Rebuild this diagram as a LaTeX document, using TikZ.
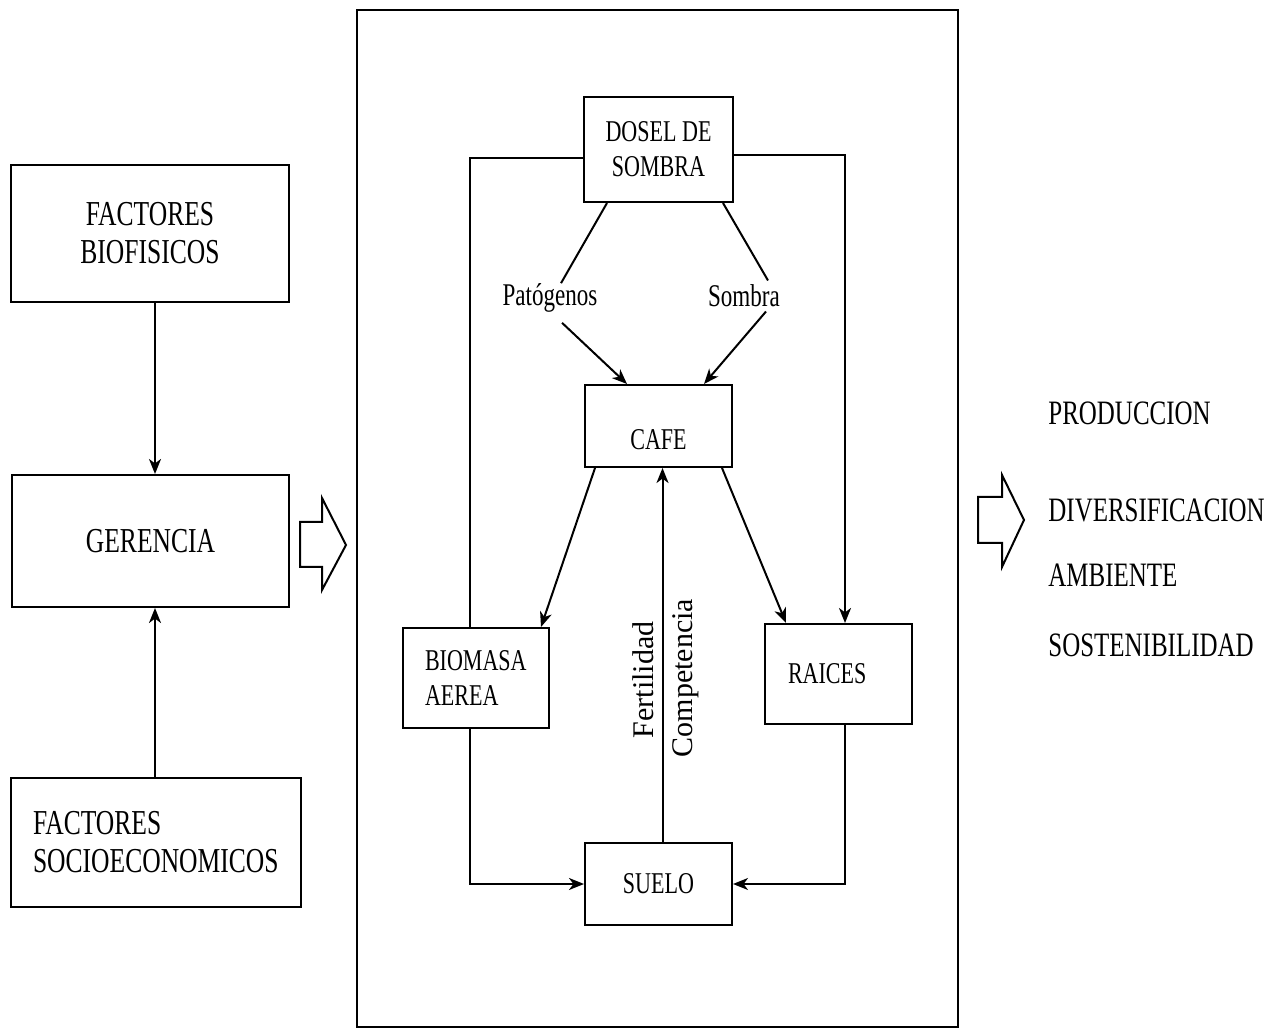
\documentclass[tikz,border=0pt]{standalone}
\usepackage{fontspec}
\setmainfont{Liberation Serif}
\newfontfamily\cond[FakeStretch=0.73]{Liberation Serif}
\usetikzlibrary{arrows.meta,calc}
\begin{document}
\begin{tikzpicture}[x=0.5pt,y=-0.5pt,
  box/.style={draw,line width=1pt,rectangle,inner sep=0pt},
  big/.style={font=\cond\fontsize{17.5}{19}\selectfont,align=center},
  small/.style={font=\cond\fontsize{15.1}{17.5}\selectfont,align=center},
  lbl/.style={font=\cond\fontsize{15.8}{17}\selectfont,inner sep=1pt},
  vlbl/.style={font=\fontsize{15}{18}\selectfont,rotate=90,inner sep=1pt},
  outtxt/.style={font=\cond\fontsize{17.1}{18}\selectfont,anchor=west,inner sep=0pt},
  arr/.style={-{Stealth[length=7.5pt,width=6pt,inset=2.2pt]},line width=1pt},
  con/.style={line width=1pt},
  hollow/.style={draw,line width=1pt,line join=miter}]
\useasboundingbox (0,0) rectangle (1274,1036);

% ---------- left column ----------
\node[box,big,minimum width=139pt,minimum height=68.5pt] (bio) at (150,233.5) {FACTORES\\BIOFISICOS};
\node[box,big,minimum width=138.5pt,minimum height=66pt] (ger) at (150.5,541) {GERENCIA};
\node[box,big,align=left,text width=123pt,inner xsep=11pt,minimum height=64.5pt] (soc) at (156,842.5) {FACTORES\\SOCIOECONOMICOS};
\coordinate (xL) at (155,0);
\draw[arr] (bio.south -| xL) -- (ger.north -| xL);
\draw[arr] (soc.north -| xL) -- (ger.south -| xL);

% hollow arrow into the system
\draw[hollow] (300,522) -- (322,522) -- (322,498) -- (346,545) -- (322,590) -- (322,567) -- (300,567) -- cycle;

% ---------- system frame ----------
\node[draw,line width=1.2pt,minimum width=300.5pt,minimum height=508.5pt,inner sep=0pt] (frame) at (657.5,518.5) {};

\node[box,small,minimum width=74.5pt,minimum height=52.5pt] (dosel) at (658.5,149.5) {DOSEL DE\\SOMBRA};
\node[box,minimum width=73.5pt,minimum height=41pt] (cafe) at (658.5,426) {};
\node[small] (cafet) at (658.5,440) {CAFE};
\node[box,small,align=left,text width=51pt,inner xsep=11pt,minimum height=50pt] (aer) at (476,678) {BIOMASA\\AEREA};
\node[box,small,align=left,text width=50.5pt,inner xsep=11.5pt,minimum height=50pt] (rai) at (838.5,674) {RAICES};
\node[box,small,minimum width=73.5pt,minimum height=41pt] (suelo) at (658.5,884) {SUELO};

\node[lbl] (pat) at (550,298) {Patógenos};
\node[lbl] (som) at (744,296) {Sombra};
\node[vlbl] (fer) at (643,680) {Fertilidad};
\node[vlbl] (comp) at (686,678) {Competencia};

\coordinate (cL) at (470,158);
\coordinate (cR) at (845,155);

% dosel side loops
\draw[con] (dosel.west |- cL) -- (cL) -- (cL |- aer.north);
\draw[arr] (dosel.east |- cR) -- (cR) -- (cR |- rai.north);

% dosel -> labels -> cafe
\draw[con] ($(dosel.south west)+(24,0)$) -- ($(pat.north)+(11,2)$);
\draw[arr] ($(pat.south)+(12,8)$) -- ($(cafe.north west)+(43,0)$);
\draw[con] ($(dosel.south east)+(-11,0)$) -- ($(som.north)+(24,-2)$);
\draw[arr] ($(som.south)+(22,2)$) -- ($(cafe.north east)+(-29,0)$);

% cafe -> biomasa / raices
\draw[arr] ($(cafe.south west)+(11,0)$) -- ($(aer.north east)+(-9,0)$);
\draw[arr] ($(cafe.south east)+(-11,0)$) -- ($(rai.north west)+(22,0)$);

% suelo -> cafe
\draw[arr] ($(suelo.north)+(4,0)$) -- ($(cafe.south)+(4,0)$);

% biomasa / raices -> suelo
\draw[arr] (aer.south -| cL) -- (cL |- suelo.west) -- (suelo.west);
\draw[arr] (rai.south -| cR) -- (cR |- suelo.east) -- (suelo.east);

% ---------- output ----------
\draw[hollow] (978,497) -- (1002,497) -- (1002,475) -- (1024,520) -- (1002,567) -- (1002,543) -- (978,543) -- cycle;
\node[outtxt] (o1) at (1048,413) {PRODUCCION};
\node[outtxt] (o2) at (1048,510) {DIVERSIFICACION};
\node[outtxt] (o3) at (1048,575) {AMBIENTE};
\node[outtxt] (o4) at (1048,645) {SOSTENIBILIDAD};
\end{tikzpicture}
\end{document}
